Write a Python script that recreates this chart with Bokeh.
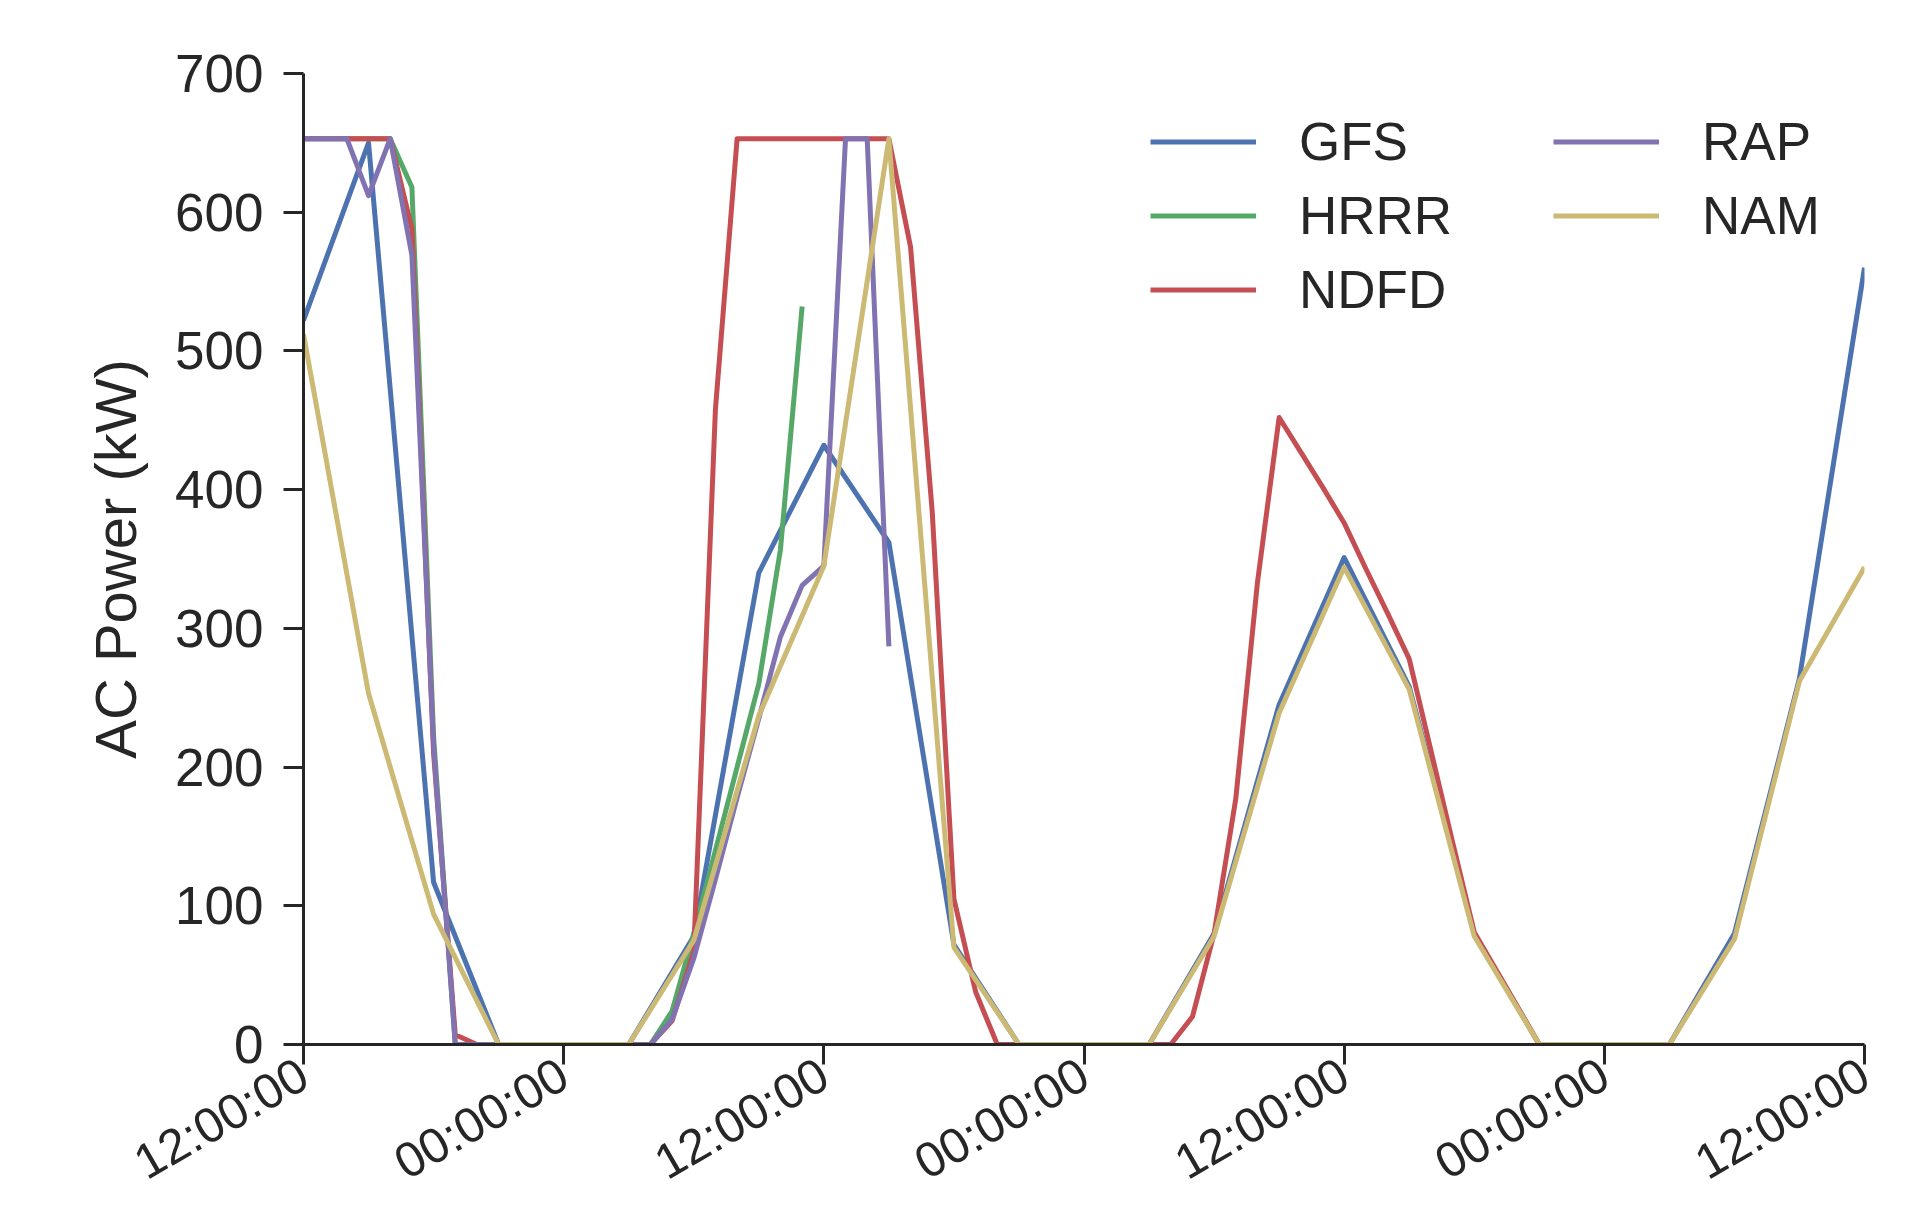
import math
from datetime import datetime, timedelta
from bokeh.plotting import figure
from bokeh.models import Range1d, FixedTicker, DatetimeTickFormatter, Legend, LegendItem
from bokeh.embed import file_html
from bokeh.resources import INLINE

start = datetime(2015, 6, 1, 12, 0, 0)

# ---- data (hours after start, AC power kW) ----
gfs_hours = [0, 3, 6, 9, 12, 15, 18, 21, 24, 27, 30, 33, 36, 39, 42, 45, 48, 51, 54, 57, 60, 63, 66, 69, 72]
gfs_kw = [522, 650, 117, 0, 0, 0, 78, 340, 432, 362, 72, 0, 0, 0, 80, 245, 351, 258, 80, 0, 0, 0, 80, 264, 560]

nam_hours = gfs_hours
nam_kw = [512, 253, 94, 0, 0, 0, 75, 237, 345, 653, 70, 0, 0, 0, 78, 239, 344, 256, 78, 0, 0, 0, 76, 262, 344]

hrrr_hours = list(range(0, 24))
hrrr_kw = [653, 653, 653, 653, 653, 618, 222, 0, 0, 0, 0, 0, 0, 0, 0, 0, 0, 24, 80, 140, 200, 260, 357, 532]

rap_hours = list(range(0, 28))
rap_kw = [653, 653, 653, 612, 653, 569, 215, 0, 0, 0, 0, 0, 0, 0, 0, 0, 0, 18, 62, 119, 178, 235, 294, 331, 345, 653, 653, 287]

ndfd_hours = list(range(0, 61))
ndfd_kw = [653, 653, 653, 653, 653, 588, 210, 7, 0, 0, 0, 0, 0, 0, 0, 0, 0, 17, 67, 458,
           653, 653, 653, 653, 653, 653, 653, 653, 575, 384, 105, 38, 0, 0, 0, 0, 0, 0, 0, 0,
           0, 20, 80, 177, 333, 452, 427, 402, 376, 343, 311, 278, 212, 146, 81, 54, 27, 0, 0, 0, 0]

series_names = ["GFS", "HRRR", "NDFD", "RAP", "NAM"]
series_colors = ["#4C72B0", "#55A868", "#C44E52", "#8172B2", "#CCB974"]
xtick_hours = [0, 12, 24, 36, 48, 60, 72]
yticks = [0, 100, 200, 300, 400, 500, 600, 700]


def to_dt(hours):
    return [start + timedelta(hours=h) for h in hours]


def to_ms(dt):
    return (dt - datetime(1970, 1, 1)).total_seconds() * 1000.0


x0 = start
x1 = start + timedelta(hours=72)

p = figure(width=1898, height=1215, x_axis_type="datetime",
           output_backend="svg", toolbar_location=None,
           x_range=Range1d(x0, x1), y_range=Range1d(0, 700),
           min_border_left=303, min_border_right=34,
           min_border_top=73, min_border_bottom=171)
p.outline_line_color = None
p.grid.visible = False
p.background_fill_color = "white"
p.border_fill_color = "white"

data = [(gfs_hours, gfs_kw), (hrrr_hours, hrrr_kw), (ndfd_hours, ndfd_kw),
        (rap_hours, rap_kw), (nam_hours, nam_kw)]
renderers = []
for (hrs, kw), name, col in zip(data, series_names, series_colors):
    r = p.line(to_dt(hrs), kw, line_color=col, line_width=5, line_join="round")
    renderers.append(r)

axis_color = "#262626"
for ax in [p.xaxis[0], p.yaxis[0]]:
    ax.axis_line_color = axis_color
    ax.axis_line_width = 3
    ax.major_tick_line_color = axis_color
    ax.major_tick_line_width = 3
    ax.major_tick_out = 20
    ax.major_tick_in = 0
    ax.minor_tick_out = 0
    ax.minor_tick_in = 0
    ax.major_label_text_font = "Liberation Sans"
    ax.major_label_text_color = axis_color

p.yaxis[0].major_label_text_font_size = "53px"
p.yaxis[0].ticker = FixedTicker(ticks=yticks)
p.yaxis[0].major_label_standoff = 20
p.yaxis[0].axis_label = "AC Power (kW)"
p.yaxis[0].axis_label_text_font = "Liberation Sans"
p.yaxis[0].axis_label_text_font_size = "58px"
p.yaxis[0].axis_label_text_font_style = "normal"
p.yaxis[0].axis_label_text_color = axis_color
p.yaxis[0].axis_label_standoff = 24

p.xaxis[0].major_label_text_font_size = "49px"
p.xaxis[0].ticker = FixedTicker(ticks=[to_ms(start + timedelta(hours=h)) for h in xtick_hours])
fmt = "%H:%M:%S"
p.xaxis[0].formatter = DatetimeTickFormatter(
    microseconds=fmt, milliseconds=fmt, seconds=fmt, minsec=fmt, minutes=fmt,
    hourmin=fmt, hours=fmt, days=fmt, months=fmt, years=fmt)
p.xaxis[0].major_label_orientation = math.pi / 6
p.xaxis[0].major_label_standoff = 6

common = dict(orientation="vertical", border_line_color=None, background_fill_alpha=0,
              padding=0, margin=0, spacing=13, glyph_width=106, glyph_height=55,
              label_height=55, label_standoff=43, label_text_font_size="53px",
              label_text_font="Liberation Sans", label_text_color=axis_color)

leg1 = Legend(items=[LegendItem(label=series_names[i], renderers=[renderers[i]]) for i in range(3)],
              location=(847, 724), **common)
leg2 = Legend(items=[LegendItem(label=series_names[i], renderers=[renderers[i]]) for i in range(3, 5)],
              location=(1250, 798), **common)
p.add_layout(leg1)
p.add_layout(leg2)

open("out.html", "w").write(file_html(p, INLINE))
